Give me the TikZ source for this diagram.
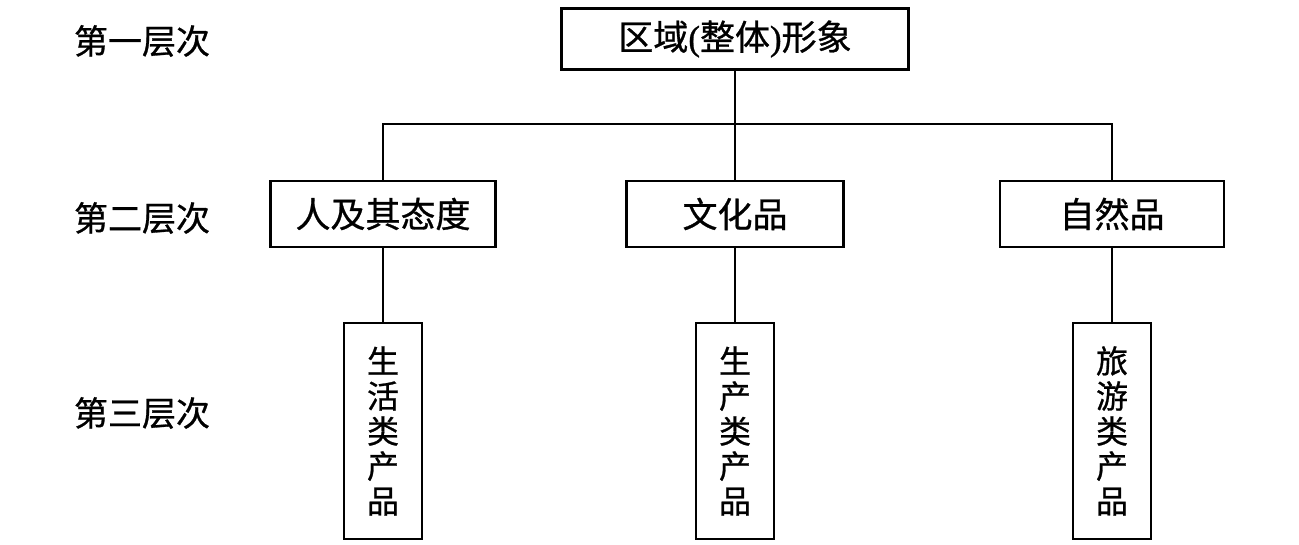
\documentclass[tikz,border=0pt]{standalone}
\usepackage{fontspec}
\newfontfamily\cjk{Noto Sans CJK SC}[FakeBold=0.8]
\newfontfamily\latinserif{Liberation Serif}[FakeBold=0.8]
\tikzset{
  box/.style={draw=black, line width=2.4pt, fill=white, inner sep=0pt, font=\cjk\fontsize{35}{38}\selectfont},
  vbox/.style={box, minimum width=78pt, minimum height=216pt, align=center, font=\cjk\fontsize{32}{35}\selectfont},
  lvl/.style={font=\cjk\fontsize{34}{38}\selectfont, inner sep=0pt},
  conn/.style={draw=black, line width=2pt}
}
\begin{document}
\begin{tikzpicture}[x=1pt,y=-1pt]
\useasboundingbox (0,0) rectangle (1299,545);
% level labels
\node[lvl] (l1) at (142,41) {第一层次};
\node[lvl] (l2) at (142,218) {第二层次};
\node[lvl] (l3) at (142,413) {第三层次};
% level 1
\node[box, minimum width=347pt, minimum height=61pt] (top) at (735,39) {区域{\latinserif(}整体{\latinserif)}形象};
% level 2
\node[box, minimum width=225pt, minimum height=66pt] (b1) at (383,214) {人及其态度};
\node[box, minimum width=217pt, minimum height=66pt] (b2) at (735,214) {文化品};
\node[box, minimum width=224pt, minimum height=66pt] (b3) at (1112,214) {自然品};
% level 3
\node[vbox] (c1) at (383,431) {生\\活\\类\\产\\品};
\node[vbox] (c2) at (735,431) {生\\产\\类\\产\\品};
\node[vbox] (c3) at (1112,431) {旅\\游\\类\\产\\品};
% connectors
\coordinate (bus) at (735,124);
\draw[conn] (top.south) -- (b2.north);
\draw[conn] (b1.north) -- (b1.north |- bus) -- (b3.north |- bus) -- (b3.north);
\draw[conn] (b1.south) -- (c1.north);
\draw[conn] (b2.south) -- (c2.north);
\draw[conn] (b3.south) -- (c3.north);
\end{tikzpicture}
\end{document}
